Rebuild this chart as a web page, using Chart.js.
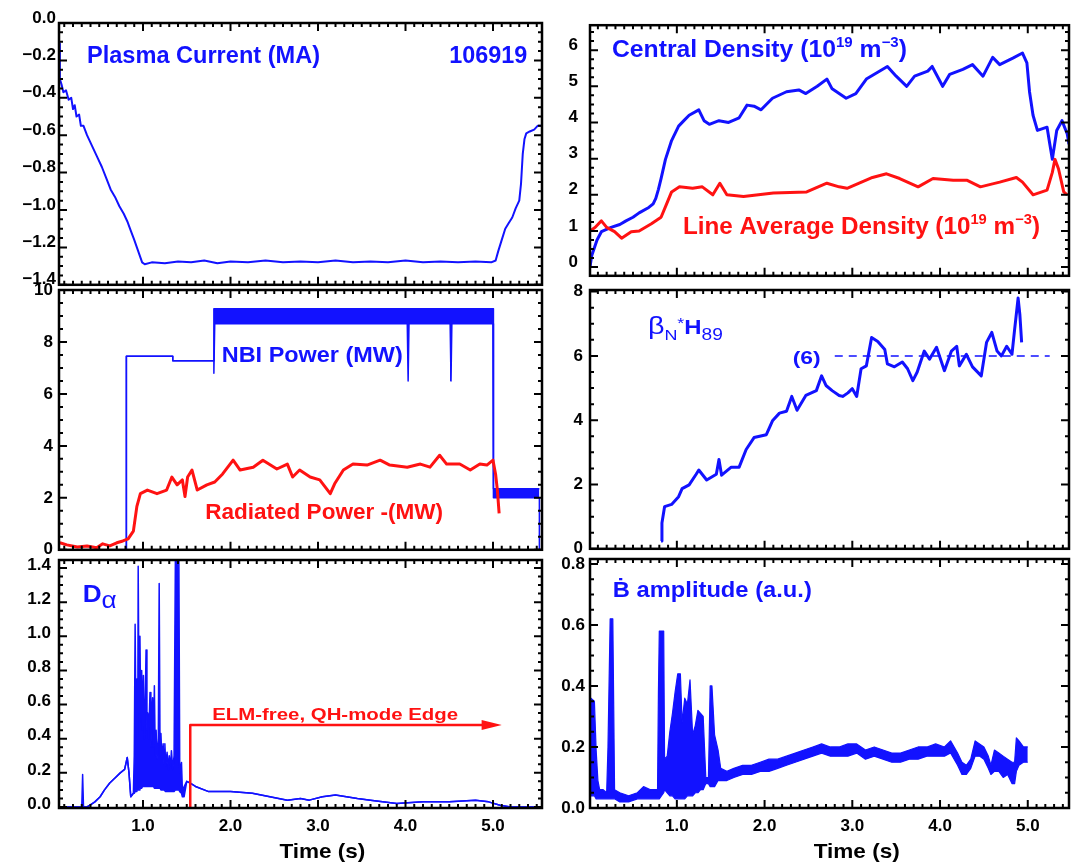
<!DOCTYPE html>
<html>
<head>
<meta charset="utf-8">
<script src="https://cdn.jsdelivr.net/npm/chart.js@4.4.0/dist/chart.umd.min.js"></script>
<style>
  body { margin: 0; background: #fff; width: 1076px; height: 866px; position: relative; overflow: hidden; }
  canvas { position: absolute; }
</style>
</head>
<body>
<canvas id="current"></canvas>
<canvas id="density"></canvas>
<canvas id="power"></canvas>
<canvas id="beta"></canvas>
<canvas id="dalpha"></canvas>
<canvas id="bdot"></canvas>
<script>
const BLUE = '#1212ff';
const RED = '#ff1212';
const FAMILY = '"Liberation Sans", "DejaVu Sans", Arial, sans-serif';

// tick values
const timeTicks = [1, 2, 3, 4, 5];
const currentTicks = [-1.4, -1.2, -1.0, -0.8, -0.6, -0.4, -0.2, 0];
const densityTicks = [0, 1, 2, 3, 4, 5, 6];
const powerTicks = [0, 2, 4, 6, 8, 10];
const betaTicks = [0, 2, 4, 6, 8];
const dalphaTicks = [0, 0.2, 0.4, 0.6, 0.8, 1.0, 1.2, 1.4];
const bdotTicks = [0, 0.2, 0.4, 0.6, 0.8];

// [time s, value]
const plasmaCurrent = [
  [0.04,-0.11],[0.05,-0.30],[0.07,-0.33],[0.09,-0.37],[0.12,-0.36],[0.15,-0.41],[0.18,-0.40],[0.20,-0.46],
  [0.22,-0.44],[0.24,-0.50],[0.27,-0.49],[0.29,-0.55],[0.32,-0.55],[0.36,-0.60],[0.42,-0.66],[0.48,-0.72],
  [0.53,-0.77],[0.58,-0.83],[0.63,-0.89],[0.68,-0.93],[0.73,-0.98],[0.78,-1.02],[0.82,-1.06],[0.86,-1.11],
  [0.90,-1.16],[0.93,-1.20],[0.96,-1.24],[0.99,-1.28],[1.02,-1.29],[1.10,-1.28],[1.25,-1.285],[1.40,-1.275],
  [1.55,-1.28],[1.70,-1.27],[1.85,-1.285],[2.00,-1.275],[2.20,-1.28],[2.40,-1.27],[2.60,-1.28],[2.80,-1.275],
  [3.00,-1.28],[3.20,-1.27],[3.40,-1.28],[3.60,-1.275],[3.80,-1.28],[4.00,-1.27],[4.20,-1.28],[4.40,-1.275],
  [4.60,-1.28],[4.80,-1.275],[4.98,-1.28],[5.03,-1.27],[5.06,-1.22],[5.10,-1.16],[5.14,-1.10],[5.18,-1.07],
  [5.22,-1.04],[5.26,-0.99],[5.30,-0.95],[5.32,-0.86],[5.34,-0.70],[5.36,-0.62],[5.38,-0.59],[5.42,-0.58],
  [5.47,-0.57],[5.51,-0.55],[5.55,-0.55]
];

const centralDensity = [
  [0.01,0.00],[0.03,0.32],[0.09,0.75],[0.14,0.98],[0.25,1.10],[0.35,1.18],[0.42,1.28],[0.50,1.38],[0.57,1.50],
  [0.68,1.65],[0.73,1.75],[0.76,1.90],[0.79,2.15],[0.82,2.45],[0.87,2.98],[0.94,3.50],[1.02,3.90],[1.08,4.05],
  [1.14,4.20],[1.25,4.35],[1.31,4.05],[1.37,3.95],[1.48,4.05],[1.59,4.00],[1.71,4.13],[1.80,4.48],[1.88,4.45],
  [1.96,4.35],[2.09,4.67],[2.25,4.85],[2.39,4.90],[2.47,4.80],[2.60,5.00],[2.71,5.20],[2.77,4.93],[2.85,4.80],
  [2.93,4.67],[3.04,4.80],[3.16,5.20],[3.40,5.55],[3.50,5.28],[3.62,5.00],[3.71,5.28],[3.86,5.42],[3.91,5.55],
  [4.03,5.00],[4.11,5.33],[4.26,5.47],[4.37,5.60],[4.49,5.28],[4.60,5.80],[4.68,5.60],[4.83,5.78],[4.94,5.92],
  [4.99,5.65],[5.02,4.85],[5.06,4.20],[5.11,3.78],[5.22,3.87],[5.25,3.42],[5.28,2.98],[5.33,3.78],[5.39,4.05],
  [5.45,3.68],[5.47,3.40]
];

const lineDensity = [
  [0.01,1.00],[0.07,1.10],[0.14,1.28],[0.20,1.10],[0.29,0.98],[0.37,0.80],[0.48,0.98],[0.57,1.00],[0.71,1.20],
  [0.82,1.38],[0.88,1.73],[0.94,2.08],[1.03,2.22],[1.18,2.18],[1.29,2.22],[1.41,2.00],[1.49,2.32],[1.57,2.00],
  [1.76,1.95],[2.10,2.05],[2.48,2.08],[2.71,2.32],[2.85,2.22],[2.94,2.18],[3.23,2.48],[3.39,2.58],[3.54,2.45],
  [3.75,2.22],[3.92,2.45],[4.15,2.40],[4.31,2.40],[4.46,2.22],[4.68,2.35],[4.87,2.48],[4.94,2.35],[5.06,2.00],
  [5.22,2.13],[5.28,2.62],[5.31,2.98],[5.35,2.72],[5.41,2.08],[5.45,2.00]
];

const radiatedPower = [
  [0.05,0.27],[0.13,0.19],[0.25,0.11],[0.36,0.15],[0.47,0.08],[0.54,0.23],[0.62,0.15],[0.70,0.27],[0.77,0.34],
  [0.83,0.42],[0.89,0.72],[0.93,1.67],[0.97,2.16],[1.05,2.30],[1.16,2.16],[1.27,2.30],[1.33,2.80],[1.39,2.50],
  [1.45,2.69],[1.48,2.05],[1.51,2.80],[1.56,3.07],[1.62,2.30],[1.73,2.50],[1.82,2.61],[1.91,2.92],[2.03,3.45],
  [2.11,3.07],[2.26,3.18],[2.37,3.45],[2.53,3.11],[2.65,3.30],[2.71,2.80],[2.79,3.07],[2.91,2.80],[3.02,2.69],
  [3.14,2.16],[3.19,2.54],[3.29,3.07],[3.40,3.30],[3.56,3.26],[3.71,3.45],[3.82,3.26],[4.02,3.18],[4.17,3.30],
  [4.28,3.18],[4.39,3.64],[4.47,3.30],[4.62,3.30],[4.74,3.07],[4.85,3.30],[4.93,3.26],[5.00,3.45],[5.03,2.90],
  [5.05,2.30],[5.07,1.40]
];

// [time s, low, high] - modulated beams give a band
const nbiPower = [
  [0.04,0,0],[0.81,0,0],[0.81,7.45,7.45],[1.34,7.45,7.45],[1.34,7.28,7.28],[1.81,7.28,7.28],[1.81,6.8,9.28],
  [1.82,8.7,9.28],[4.02,8.7,9.28],[4.03,6.5,9.28],[4.04,8.7,9.28],[4.51,8.7,9.28],[4.52,6.5,9.28],[4.53,8.7,9.28],
  [5.00,8.7,9.28],[5.00,2.0,9.28],[5.01,2.0,2.35],[5.53,2.0,2.35],[5.53,0,2.35]
];

const betaH = [
  [0.82,0.24],[0.83,0.80],[0.86,1.31],[0.94,1.38],[1.02,1.62],[1.06,1.87],[1.14,1.99],[1.22,2.32],[1.25,2.45],
  [1.34,2.14],[1.45,2.32],[1.48,2.78],[1.51,2.29],[1.62,2.54],[1.71,2.54],[1.79,3.09],[1.88,3.46],[2.02,3.55],
  [2.09,3.98],[2.17,4.22],[2.25,4.28],[2.31,4.74],[2.37,4.31],[2.47,4.77],[2.59,4.92],[2.65,5.38],[2.70,5.08],
  [2.77,4.92],[2.85,4.77],[2.89,4.74],[2.95,4.85],[3.00,4.98],[3.05,4.74],[3.10,5.60],[3.16,5.69],[3.22,6.57],
  [3.29,6.45],[3.37,6.20],[3.40,5.75],[3.48,5.66],[3.57,5.81],[3.63,5.60],[3.69,5.23],[3.74,5.50],[3.82,6.15],
  [3.88,5.90],[3.96,6.27],[4.05,5.54],[4.13,6.15],[4.19,6.30],[4.22,5.69],[4.30,6.05],[4.37,5.66],[4.47,5.38],
  [4.53,6.42],[4.59,6.73],[4.65,6.15],[4.70,6.00],[4.76,6.30],[4.82,6.05],[4.85,6.82],[4.89,7.80],[4.91,7.28],
  [4.93,6.42]
];
const betaTarget = [[2.80,6],[5.25,6]];

const dAlpha = [
  [0.04,0,0],[0.30,0,0],[0.31,0,0.19],[0.32,0,0],[0.36,0,0],[0.39,0.01,0.01],[0.45,0.03,0.03],[0.51,0.06,0.06],
  [0.56,0.10,0.10],[0.62,0.14,0.14],[0.68,0.17,0.17],[0.74,0.20,0.20],[0.79,0.22,0.22],[0.82,0.29,0.29],
  [0.84,0.20,0.20],[0.86,0.06,0.06],[0.89,0.08,0.08],
  [0.90,0.08,0.30],[0.91,0.09,1.07],[0.92,0.09,0.45],[0.93,0.10,0.75],[0.94,0.10,0.40],[0.945,0.10,1.41],
  [0.955,0.10,0.55],[0.965,0.11,1.00],[0.975,0.11,0.50],[0.985,0.11,0.80],[0.995,0.12,0.45],[1.005,0.12,0.77],
  [1.015,0.12,0.40],[1.025,0.12,0.60],[1.035,0.12,0.92],[1.045,0.12,0.45],[1.055,0.12,0.55],[1.065,0.12,0.40],
  [1.08,0.12,0.67],[1.09,0.12,0.35],[1.10,0.12,0.55],[1.11,0.12,0.64],[1.12,0.12,0.35],[1.13,0.11,0.71],
  [1.14,0.11,0.30],[1.15,0.11,0.45],[1.16,0.11,0.28],[1.175,0.11,0.40],[1.185,0.11,1.31],[1.195,0.11,0.30],
  [1.205,0.10,0.43],[1.215,0.10,0.28],[1.23,0.10,0.37],[1.24,0.10,0.25],[1.25,0.10,0.37],[1.26,0.09,0.24],
  [1.275,0.09,0.32],[1.29,0.09,0.22],[1.30,0.09,0.30],[1.315,0.09,0.24],[1.325,0.09,0.33],[1.34,0.09,0.22],
  [1.355,0.09,0.30],[1.37,0.10,1.45],[1.41,0.10,1.45],[1.42,0.09,0.20],[1.44,0.08,0.26],[1.45,0.06,0.10],
  [1.47,0.06,0.12],
  [1.50,0.15,0.15],[1.54,0.14,0.14],[1.60,0.12,0.12],[1.75,0.09,0.09],[2.00,0.09,0.09],[2.25,0.08,0.08],
  [2.45,0.06,0.06],[2.65,0.04,0.04],[2.80,0.05,0.05],[2.90,0.04,0.04],[3.05,0.06,0.06],[3.20,0.07,0.07],
  [3.45,0.05,0.05],[3.60,0.04,0.04],[3.90,0.02,0.02],[4.20,0.03,0.03],[4.50,0.03,0.03],[4.80,0.04,0.04],
  [4.95,0.03,0.03],[5.08,0.01,0.01],[5.20,0,0],[5.56,0,0]
];
const elmFree = [[1.54,-0.02],[1.54,0.48],[4.95,0.48]];

const bDot = [
  [0.01,0.05,0.27],[0.02,0.04,0.36],[0.06,0.04,0.35],[0.08,0.03,0.19],[0.10,0.03,0.09],[0.12,0.03,0.06],
  [0.16,0.03,0.06],[0.20,0.03,0.05],[0.215,0.03,0.20],[0.24,0.03,0.62],[0.27,0.03,0.62],[0.29,0.03,0.06],
  [0.35,0.02,0.05],[0.45,0.02,0.04],[0.55,0.03,0.05],[0.62,0.03,0.07],[0.70,0.03,0.06],[0.78,0.03,0.06],
  [0.79,0.03,0.38],[0.80,0.03,0.58],[0.85,0.05,0.58],[0.86,0.06,0.16],[0.89,0.05,0.17],[0.92,0.04,0.25],
  [0.95,0.04,0.31],[0.98,0.03,0.38],[1.01,0.03,0.44],[1.04,0.03,0.44],[1.06,0.03,0.28],[1.09,0.03,0.36],
  [1.12,0.04,0.34],[1.15,0.04,0.42],[1.18,0.04,0.24],[1.21,0.05,0.27],[1.24,0.05,0.32],[1.27,0.06,0.31],
  [1.30,0.06,0.30],[1.33,0.08,0.10],[1.36,0.08,0.10],[1.38,0.07,0.40],[1.40,0.07,0.40],[1.43,0.07,0.24],
  [1.47,0.09,0.19],[1.50,0.09,0.13],[1.57,0.09,0.12],[1.65,0.10,0.13],[1.75,0.11,0.14],[1.85,0.11,0.14],
  [1.95,0.12,0.15],[2.05,0.12,0.16],[2.15,0.13,0.16],[2.25,0.14,0.17],[2.35,0.15,0.18],[2.45,0.16,0.19],
  [2.55,0.17,0.20],[2.65,0.18,0.21],[2.75,0.17,0.20],[2.85,0.17,0.20],[2.95,0.17,0.21],[3.05,0.18,0.21],
  [3.15,0.16,0.19],[3.25,0.17,0.20],[3.35,0.16,0.19],[3.45,0.15,0.18],[3.55,0.15,0.18],[3.65,0.16,0.19],
  [3.75,0.16,0.20],[3.85,0.17,0.20],[3.95,0.17,0.21],[4.05,0.17,0.20],[4.12,0.18,0.22],[4.20,0.14,0.18],
  [4.25,0.11,0.15],[4.30,0.11,0.14],[4.35,0.13,0.16],[4.40,0.17,0.22],[4.45,0.17,0.21],[4.50,0.16,0.20],
  [4.55,0.13,0.17],[4.58,0.11,0.14],[4.62,0.12,0.19],[4.67,0.12,0.18],[4.72,0.10,0.17],[4.77,0.11,0.16],
  [4.82,0.08,0.15],[4.85,0.08,0.15],[4.87,0.12,0.23],[4.90,0.14,0.22],[4.95,0.15,0.20],[5.00,0.15,0.20]
];

function pts(rows, k = 1) {
  return rows.map(r => ({ x: r[0], y: r[k] }));
}

function trace(rows, color, width, k = 1, extra = {}) {
  return Object.assign({
    data: pts(rows, k), borderColor: color, borderWidth: width,
    pointRadius: 0, tension: 0, fill: false, borderJoinStyle: 'round'
  }, extra);
}

// two traces with the gap between them filled
function band(rows, color, width) {
  return [
    trace(rows, color, width, 2, { fill: '+1', backgroundColor: color }),
    trace(rows, color, width, 1)
  ];
}

// text with sub/superscript pieces, squeezed or stretched to a given width
function drawRich(ctx, parts, x, y, size, color, width, align) {
  const fonts = parts.map(p => `${p.w || 'bold'} ${Math.round(size * (p.s || 1))}px ${FAMILY}`);
  let total = 0;
  const widths = parts.map((p, i) => {
    ctx.font = fonts[i];
    const w = ctx.measureText(p.t).width;
    total += w;
    return w;
  });
  const sx = width ? width / total : 1;
  ctx.save();
  ctx.translate(align === 'center' ? x - total * sx / 2 : x, y);
  ctx.scale(sx, 1);
  ctx.fillStyle = color;
  ctx.textBaseline = 'alphabetic';
  let cx = 0;
  parts.forEach((p, i) => {
    ctx.font = fonts[i];
    ctx.fillText(p.t, cx, (p.dy || 0) * size);
    cx += widths[i];
  });
  ctx.restore();
}

function notes(items) {
  return {
    id: 'notes',
    afterDraw(chart) {
      const { ctx, scales: { x, y } } = chart;
      for (const n of items) {
        const px = x.getPixelForValue(n.t);
        const py = y.getPixelForValue(n.v);
        if (n.head) {
          const back = x.getPixelForValue(n.from);
          ctx.save();
          ctx.fillStyle = n.color;
          ctx.beginPath();
          ctx.moveTo(px, py);
          ctx.lineTo(back, py - 5);
          ctx.lineTo(back, py + 5);
          ctx.closePath();
          ctx.fill();
          ctx.restore();
          continue;
        }
        drawRich(ctx, n.parts, px, py, n.size, n.color, n.width, n.align);
      }
    }
  };
}

// boxed frame with inward ticks on all four sides
function frame(yMajor, yStep) {
  return {
    id: 'frame',
    afterDatasetsDraw(chart) {
      const { ctx, chartArea: a, scales: { x, y } } = chart;
      const marks = (scale, step, major) => {
        const out = [];
        for (let k = Math.ceil(scale.min / step - 1e-6); k <= Math.floor(scale.max / step + 1e-6); k++) {
          const v = k * step;
          const big = major.some(m => Math.abs(m - v) < step / 10);
          out.push({ p: scale.getPixelForValue(v), len: big ? 8 : 4 });
        }
        return out;
      };
      ctx.save();
      ctx.strokeStyle = '#000';
      ctx.lineWidth = 2;
      ctx.beginPath();
      for (const m of marks(x, 0.1, timeTicks)) {
        ctx.moveTo(m.p, a.bottom); ctx.lineTo(m.p, a.bottom - m.len);
        ctx.moveTo(m.p, a.top); ctx.lineTo(m.p, a.top + m.len);
      }
      for (const m of marks(y, yStep, yMajor)) {
        ctx.moveTo(a.left, m.p); ctx.lineTo(a.left + m.len, m.p);
        ctx.moveTo(a.right, m.p); ctx.lineTo(a.right - m.len, m.p);
      }
      ctx.stroke();
      ctx.lineWidth = 2.5;
      ctx.strokeRect(a.left, a.top, a.width, a.height);
      ctx.restore();
    }
  };
}

const tickFont = { family: FAMILY, size: 17, weight: 'bold' };

function panel(id, box, cfg) {
  const padTop = 20, padRight = 10, yW = 56;
  const xH = cfg.timeAxis ? 62 : 0;
  const padBottom = cfg.timeAxis ? 0 : 12;
  const canvas = document.getElementById(id);
  canvas.width = box.r - box.l + yW + padRight;
  canvas.height = box.b - box.t + padTop + xH + padBottom;
  canvas.style.left = (box.l - yW) + 'px';
  canvas.style.top = (box.t - padTop) + 'px';
  const items = cfg.notes.slice();
  if (cfg.timeAxis) {
    items.push({ parts: [{ t: 'Time (s)' }], t: 3.05, v: cfg.timeTitleV, size: 21, color: '#000', width: 86, align: 'center' });
  }
  return new Chart(canvas, {
    type: 'line',
    data: { datasets: cfg.datasets },
    options: {
      responsive: false,
      animation: false,
      events: [],
      layout: { padding: { left: 0, top: padTop, right: padRight, bottom: padBottom } },
      plugins: { legend: { display: false }, tooltip: { enabled: false } },
      scales: {
        x: {
          type: 'linear', min: cfg.xMin, max: cfg.xMax, display: !!cfg.timeAxis,
          afterBuildTicks: s => { s.ticks = timeTicks.map(v => ({ value: v })); },
          afterFit: s => { s.height = xH; },
          grid: { display: false, drawTicks: false },
          border: { display: false },
          ticks: { font: tickFont, color: '#000', padding: 8, maxRotation: 0, callback: v => v.toFixed(1) }
        },
        y: {
          type: 'linear', min: cfg.yMin, max: cfg.yMax,
          afterBuildTicks: s => { s.ticks = cfg.yTicks.map(v => ({ value: v })); },
          afterFit: s => { s.width = yW; },
          grid: { display: false, drawTicks: false },
          border: { display: false },
          ticks: { font: tickFont, color: '#000', padding: cfg.yPad, labelOffset: cfg.yOff, callback: cfg.fmt }
        }
      }
    },
    plugins: [frame(cfg.yTicks, cfg.yMinor), notes(items)]
  });
}

const LEFT = { l: 59, r: 542 };
const RIGHT = { l: 590, r: 1069 };
const fixed1 = v => (v < 0 ? '\u2212' : '') + Math.abs(v).toFixed(1);
const whole = v => v.toFixed(0);

panel('current', { ...LEFT, t: 23, b: 286 }, {
  xMin: 0.04, xMax: 5.56, yMin: -1.4, yMax: 0, yTicks: currentTicks, yMinor: 0.05,
  yPad: 3, yOff: -5, fmt: fixed1,
  datasets: [trace(plasmaCurrent, BLUE, 2)],
  notes: [
    { parts: [{ t: 'Plasma Current (MA)' }], t: 0.36, v: -0.216, size: 23, color: BLUE, width: 233 },
    { parts: [{ t: '106919' }], t: 4.50, v: -0.216, size: 23, color: BLUE, width: 78 }
  ]
});

panel('density', { ...RIGHT, t: 23, b: 286 }, {
  xMin: 0.01, xMax: 5.47, yMin: -0.24, yMax: 6.69, yTicks: densityTicks, yMinor: 0.25,
  yPad: 12, yOff: -5, fmt: whole,
  datasets: [trace(lineDensity, RED, 3), trace(centralDensity, BLUE, 3)],
  notes: [
    { parts: [{ t: 'Central Density (10' }, { t: '19', s: 0.6, dy: -0.45 }, { t: ' m' }, { t: '\u22123', s: 0.6, dy: -0.45 }, { t: ')' }],
      t: 0.26, v: 5.81, size: 23, color: BLUE, width: 295 },
    { parts: [{ t: 'Line Average Density (10' }, { t: '19', s: 0.6, dy: -0.45 }, { t: ' m' }, { t: '\u22123', s: 0.6, dy: -0.45 }, { t: ')' }],
      t: 1.07, v: 0.91, size: 23, color: RED, width: 357 }
  ]
});

panel('power', { ...LEFT, t: 290, b: 554 }, {
  xMin: 0.04, xMax: 5.56, yMin: 0, yMax: 10, yTicks: powerTicks, yMinor: 0.5,
  yPad: 6, yOff: 0, fmt: whole,
  datasets: [trace(radiatedPower, RED, 3), ...band(nbiPower, BLUE, 1.5)],
  notes: [
    { parts: [{ t: 'NBI Power (MW)' }], t: 1.90, v: 7.23, size: 22, color: BLUE, width: 181 },
    { parts: [{ t: 'Radiated Power -(MW)' }], t: 1.71, v: 1.17, size: 22, color: RED, width: 238 }
  ]
});

panel('beta', { ...RIGHT, t: 290, b: 554 }, {
  xMin: 0.01, xMax: 5.47, yMin: 0, yMax: 8.05, yTicks: betaTicks, yMinor: 0.5,
  yPad: 7, yOff: 0, fmt: whole,
  datasets: [
    trace(betaH, BLUE, 3),
    trace(betaTarget, BLUE, 1.5, 1, { borderDash: [8, 6] })
  ],
  notes: [
    { parts: [{ t: '\u03b2', w: 'normal', s: 1.2 }, { t: 'N', w: 'normal', s: 0.75, dy: 0.3 }, { t: '*', w: 'normal', s: 0.75, dy: -0.3 },
              { t: 'H' }, { t: '89', w: 'normal', s: 0.8, dy: 0.3 }],
      t: 0.67, v: 6.67, size: 20, color: BLUE, width: 75 },
    { parts: [{ t: '(6)' }], t: 2.32, v: 5.75, size: 19, color: BLUE, width: 28 }
  ]
});

panel('dalpha', { ...LEFT, t: 560, b: 808 }, {
  xMin: 0.04, xMax: 5.56, yMin: -0.006, yMax: 1.447, yTicks: dalphaTicks, yMinor: 0.05,
  yPad: 8, yOff: -3, fmt: fixed1, timeAxis: true, timeTitleV: -0.30,
  datasets: [trace(elmFree, RED, 2.5), ...band(dAlpha, BLUE, 1.5)],
  notes: [
    { parts: [{ t: 'D' }, { t: '\u03b1', w: 'normal', dy: 0.27 }], t: 0.31, v: 1.20, size: 23, color: BLUE, width: 34 },
    { parts: [{ t: 'ELM-free, QH-mode Edge' }], t: 1.79, v: 0.51, size: 16, color: RED, width: 246 },
    { head: true, from: 4.87, t: 5.10, v: 0.48, color: RED }
  ]
});

panel('bdot', { ...RIGHT, t: 559, b: 808 }, {
  xMin: 0.01, xMax: 5.47, yMin: 0, yMax: 0.816, yTicks: bdotTicks, yMinor: 0.05,
  yPad: 5, yOff: 0, fmt: fixed1, timeAxis: true, timeTitleV: -0.164,
  datasets: [...band(bDot, BLUE, 1.2)],
  notes: [
    { parts: [{ t: '\u1e02 amplitude (a.u.)' }], t: 0.27, v: 0.69, size: 22, color: BLUE, width: 199 }
  ]
});
</script>
</body>
</html>
